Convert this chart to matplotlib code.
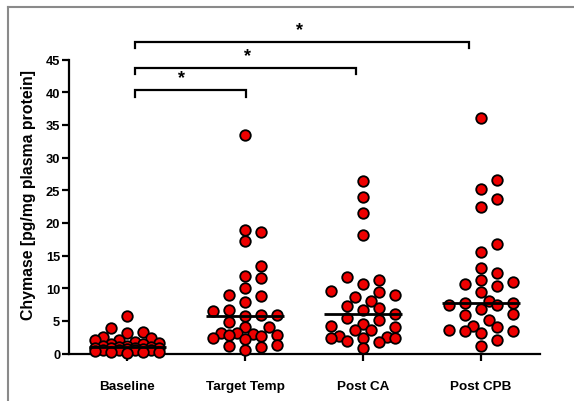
import numpy as np
import matplotlib
matplotlib.use("Agg")
import matplotlib.pyplot as plt
from matplotlib.lines import Line2D

plt.rcParams['font.family'] = ['Liberation Sans', 'DejaVu Sans']
plt.rcParams['font.weight'] = 'bold'

categories = ["Baseline", "Target Temp", "Post CA", "Post CPB"]

baseline = [5.8, 3.9, 3.3, 3.1, 2.5, 2.3, 2.1, 2.0, 1.8, 1.6, 1.5, 1.4, 1.2, 1.1,
            1.0, 1.0, 0.9, 0.9, 0.8, 0.8, 0.7, 0.7, 0.6, 0.6, 0.5, 0.5, 0.4, 0.3,
            0.3, 0.2, 0.1]
target_temp = [33.5, 18.6, 18.9, 17.2, 13.4, 11.5, 11.8, 10.1, 9.0, 8.8, 7.9, 6.7,
               6.5, 5.95, 5.7, 5.95, 4.9, 4.0, 4.05, 3.1, 3.0, 3.1, 2.9, 2.7, 2.3,
               2.8, 2.2, 1.1, 1.0, 1.35, 0.5]
post_ca = [26.4, 23.9, 21.5, 18.1, 11.3, 11.7, 10.7, 9.6, 9.35, 9.0, 8.6, 8.0, 7.2,
           6.9, 6.6, 6.1, 5.4, 5.1, 4.5, 4.2, 4.0, 3.6, 3.6, 2.6, 2.3, 2.4, 2.7,
           2.3, 1.9, 1.7, 0.9]
post_cpb = [36.0, 26.6, 25.2, 23.7, 22.4, 16.7, 15.6, 13.1, 12.4, 10.9, 10.6, 11.3,
            10.3, 9.35, 8.0, 7.7, 7.5, 7.4, 7.7, 6.8, 5.9, 6.1, 5.2, 4.2, 4.0, 3.5,
            3.6, 3.4, 3.1, 2.1, 1.2]
groups = [baseline, target_temp, post_ca, post_cpb]

yticks = [0, 5, 10, 15, 20, 25, 30, 35, 40, 45]
ylabel = "Chymase [pg/mg plasma protein]"

# significance comparisons: (from, to, label)
comparisons = [(0, 1, "*"), (0, 2, "*"), (0, 3, "*")]

W, H = 574, 402
fig = plt.figure(figsize=(W / 100, H / 100), dpi=100)
ax_l, ax_r, ax_t, ax_b = 68.5, 540.0, 60.7, 354.5
ax = fig.add_axes([ax_l / W, 1 - ax_b / H, (ax_r - ax_l) / W, (ax_b - ax_t) / H])
ax.set_xlim(-0.5, 3.5)
ax.set_ylim(0, 45)

# swarm layout in pixel space
fig.canvas.draw()
px_per_x = ax.transData.transform((1, 0))[0] - ax.transData.transform((0, 0))[0]
px_per_y = ax.transData.transform((0, 1))[1] - ax.transData.transform((0, 0))[1]
diam = 11.0
step = 8.0
cands = [0, 2, -2, 1, -1, 4, -4, 3, -3]


def swarm(vals):
    order = np.argsort(vals)
    placed = []
    offs = np.zeros(len(vals))
    for i in order:
        yp = vals[i] * px_per_y
        best, bestd = None, -1
        for k in cands:
            xp = k * step
            if placed:
                d = min(np.hypot(xp - a, yp - b) for a, b in placed)
            else:
                d = 1e9
            if d >= diam * 0.95:
                best = xp
                break
            if d > bestd:
                bestd, best = d, xp
        placed.append((best, yp))
        offs[i] = best / px_per_x
    return offs


for gi, vals in enumerate(groups):
    v = np.array(vals, dtype=float)
    offs = swarm(v)
    ax.plot(gi + offs, v, 'o', ms=7.6, mfc='#ee0000', mec='black', mew=1.3,
            zorder=3, clip_on=False)
    med = np.median(v)
    ax.plot([gi - 0.33, gi + 0.33], [med, med], color='black', lw=2.0, zorder=4,
            solid_capstyle='butt')

for s in ['top', 'right']:
    ax.spines[s].set_visible(False)
for s in ['left', 'bottom']:
    ax.spines[s].set_linewidth(1.6)
ax.spines['bottom'].set_zorder(2)

ax.set_yticks(yticks)
ax.set_yticklabels([str(t) for t in yticks], fontsize=9.3, fontweight='bold')
ax.set_xticks(range(len(categories)))
ax.set_xticklabels(categories, fontsize=9.7, fontweight='bold')
ax.tick_params(axis='both', direction='out', length=5, width=1.6)
ax.tick_params(axis='x', pad=14)
ax.tick_params(axis='y', pad=1)

fig.text(28.3 / W, 1 - 195.4 / H, ylabel, rotation=90, ha='center', va='center',
         fontsize=11.4, fontweight='bold')

# brackets
levels = [40.35, 43.8, 47.75]
ends = {1: 1.008, 2: 1.94, 3: 2.894}
star_x = {1: 0.46, 2: 1.02, 3: 1.46}
for (a, b, lab), lvl in zip(comparisons, levels):
    x0 = a + 0.066
    x1 = ends[b]
    ax.plot([x0, x0, x1, x1], [lvl - 1.0, lvl, lvl, lvl - 1.0], color='black',
            lw=1.6, clip_on=False, solid_joinstyle='miter')
    ax.text(star_x[b], lvl + 0.6, lab, ha='center', va='bottom', fontsize=13,
            fontweight='bold', clip_on=False)

# grey frame
fig.add_artist(Line2D([8 / W, 8 / W], [0, 1 - 7.5 / H], transform=fig.transFigure,
                      color='#8a8a8a', lw=1.5))
fig.add_artist(Line2D([8 / W, 1], [1 - 7.5 / H, 1 - 7.5 / H], transform=fig.transFigure,
                      color='#8a8a8a', lw=1.5))

fig.savefig("out.png", dpi=100)
